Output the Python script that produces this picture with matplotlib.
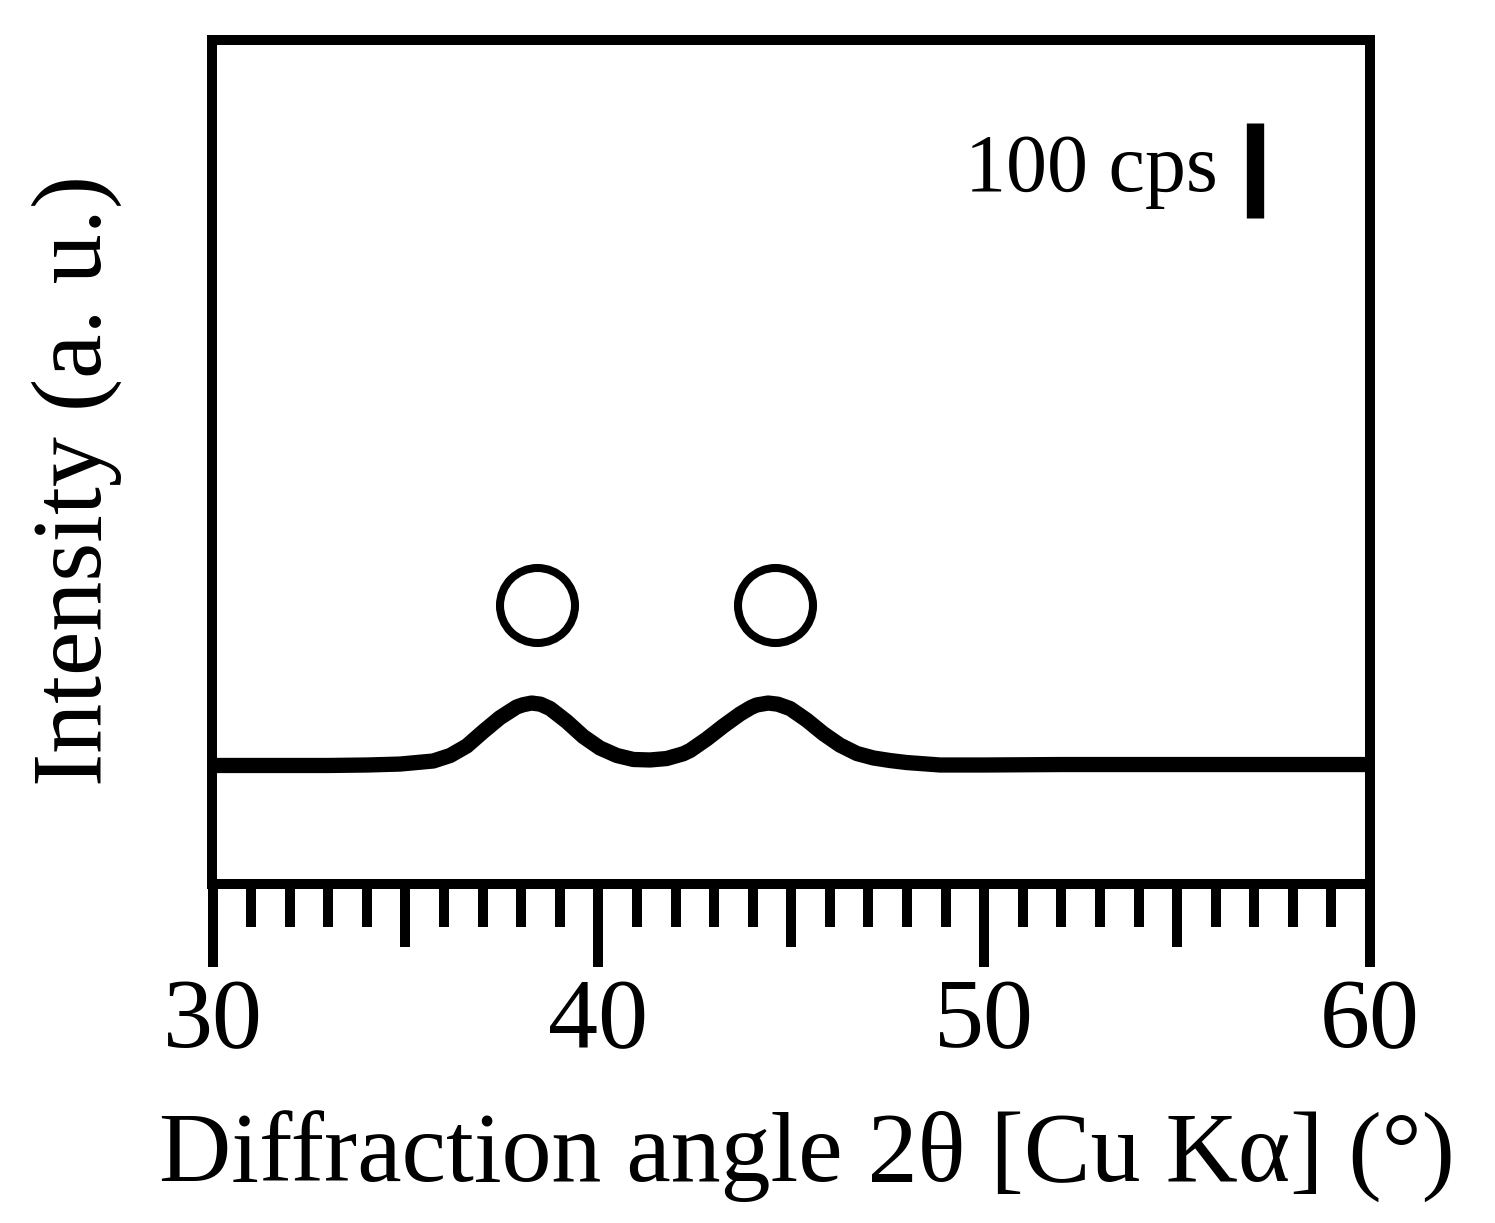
import matplotlib
matplotlib.use("Agg")
import matplotlib.pyplot as plt
from matplotlib.ticker import FixedLocator, MultipleLocator

plt.rcParams['font.family'] = ['Liberation Serif', 'DejaVu Serif']

# ---- data (intensity in cps) ----
two_theta = [30, 31, 32, 33, 34, 34.86, 35.72, 36.16, 36.59, 37.02, 37.45, 37.88,
             38.05, 38.27, 38.5, 38.75, 39.18, 39.61, 40.04, 40.48, 40.91, 41.34,
             41.77, 42.2, 42.38, 42.81, 43.24, 43.67, 43.95, 44.1, 44.4,
             44.65, 44.97, 45.4, 45.83, 46.26, 46.7, 47.13, 47.56, 47.99, 48.86,
             50, 52, 55, 58, 60]
intensity = [124.7, 124.7, 124.7, 124.7, 125.2, 126.2, 129.4, 135.2, 145.2, 160.5,
             175.0, 186.2, 188.6, 190.4, 189.2, 184.6, 171.0, 155.2, 143.1, 135.2,
             131.0, 130.5, 132.0, 137.0, 140.5, 152.6, 166.2, 178.8, 185.6,
             188.3, 190.4, 189.2, 184.6, 172.5, 158.3, 146.2, 137.3, 132.6, 129.9,
             127.8, 125.2, 125.2, 125.7, 125.7, 125.7, 125.7]
marker_x = [38.41, 44.58]
marker_y = [293.7, 293.7]
scale_bar_x = 57.02
scale_bar_bottom = 701.0
scale_bar_len = 100.0
scale_label = "100 cps"
major_ticks = [30, 40, 50, 60]
mid_ticks = [35, 45, 55]
xlabel = "Diffraction angle 2θ [Cu Kα] (°)"
ylabel = "Intensity (a. u.)"

W, H = 1495, 1223
fig = plt.figure(figsize=(W / 100, H / 100), dpi=100)
ax = fig.add_axes([212.5 / W, 1 - 884 / H, (1370 - 212.5) / W, (884 - 40) / H])

ax.plot(two_theta, intensity, color='black', lw=11, solid_joinstyle='round',
        solid_capstyle='butt', clip_on=False, zorder=3)
ax.plot(marker_x, marker_y, 'o', ms=54, mfc='none', mec='black', mew=5.8, ls='none')
ax.plot([scale_bar_x, scale_bar_x], [scale_bar_bottom, scale_bar_bottom + scale_bar_len],
        color='black', lw=12.5, solid_capstyle='butt')
ax.text(1218 / W, 1 - 191 / H, scale_label, transform=fig.transFigure,
        ha='right', va='baseline', fontsize=59)

ax.set_xlim(30, 60)
ax.set_ylim(0, 888)
ax.set_yticks([])
for s in ax.spines.values():
    s.set_linewidth(7.2)

ax.xaxis.set_major_locator(FixedLocator(major_ticks))
ax.xaxis.set_minor_locator(MultipleLocator(1))
ax.tick_params(axis='x', which='major', direction='out', length=60, width=7.2,
               labelsize=72, pad=8)
ax.tick_params(axis='x', which='minor', direction='out', length=31, width=7.2)

sec = ax.secondary_xaxis('bottom')
sec.set_xticks(mid_ticks)
sec.set_xticklabels([])
sec.tick_params(axis='x', which='major', direction='out', length=45, width=7.2)
sec.tick_params(axis='x', which='minor', bottom=False)
sec.spines['bottom'].set_visible(False)

fig.text(807 / W, 1 - 1157 / H, xlabel, ha='center', va='center', fontsize=72)
fig.text(77 / W, 1 - 480 / H, ylabel, ha='center', va='center', fontsize=72, rotation=90)

fig.savefig('out.png', dpi=100)
